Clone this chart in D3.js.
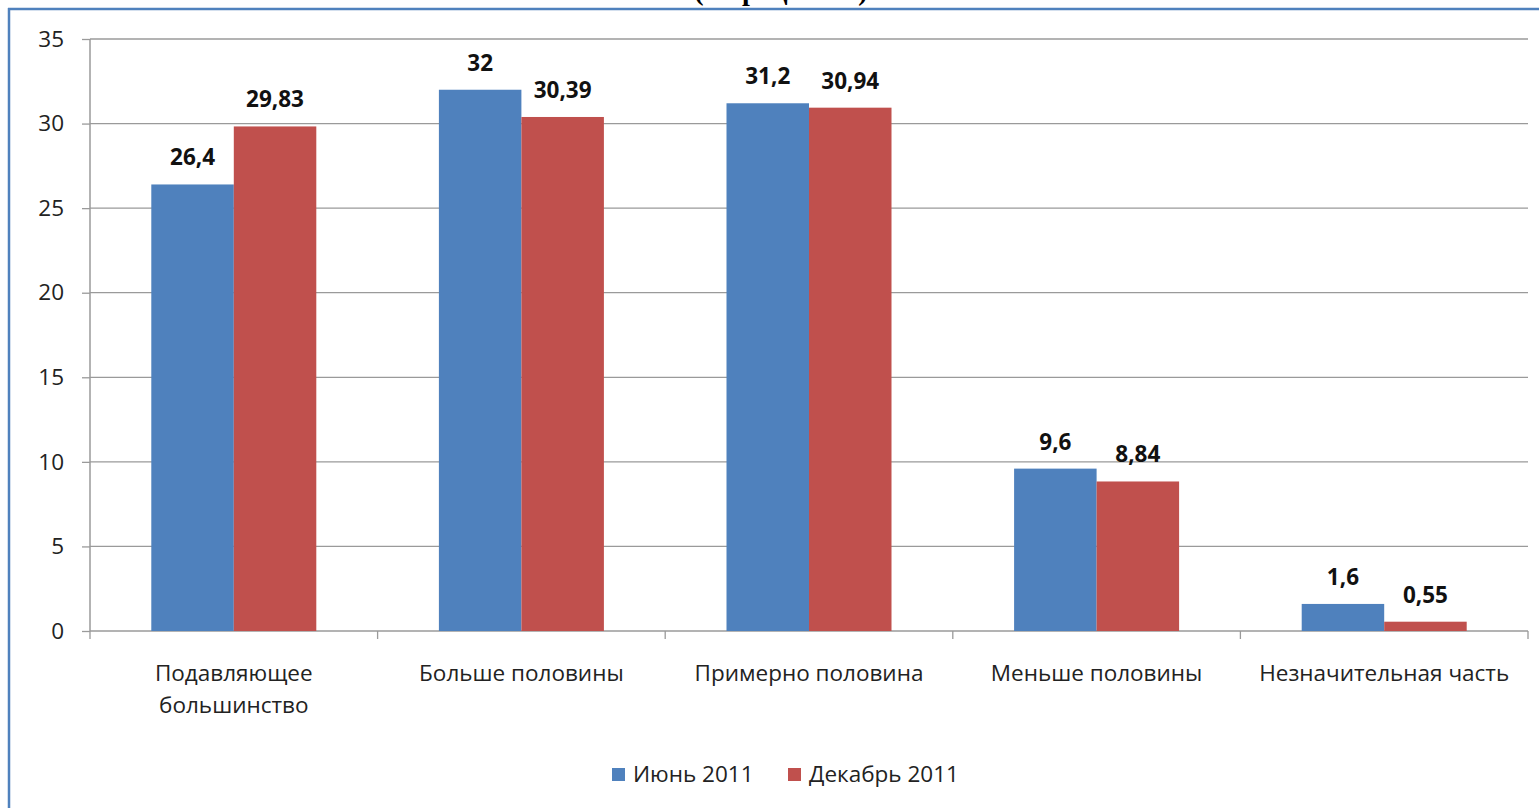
<!DOCTYPE html>
<html><head><meta charset="utf-8">
<script src="https://cdn.jsdelivr.net/npm/d3@7"></script>
<style>body{margin:0;background:#fff;overflow:hidden}svg{display:block}</style>
</head><body>
<script>
const categories = [["Подавляющее","большинство"],["Больше половины"],["Примерно половина"],["Меньше половины"],["Незначительная часть"]];
const seriesNames = ["Июнь 2011","Декабрь 2011"];
const june = [26.4, 32, 31.2, 9.6, 1.6];
const december = [29.83, 30.39, 30.94, 8.84, 0.55];
const juneLabels = ["26,4","32","31,2","9,6","1,6"];
const decLabels = ["29,83","30,39","30,94","8,84","0,55"];
const yTicks = [0,5,10,15,20,25,30,35];
const colors = ["#4F81BD","#C0504D"];

const W=1539,H=808;
const svg=d3.select("body").append("svg").attr("width",W).attr("height",H);
const font="'Open Sans', 'Noto Sans', sans-serif";
const fs="22.5px";

// partially hidden title (cut off by the top edge as in the reference)
svg.append("text").attr("x",781).attr("y",0).attr("text-anchor","middle")
  .style("font-family","'Liberation Serif', serif").style("font-weight","bold").style("font-size","28px")
  .text("(в процентах)");
svg.append("rect").attr("x",0).attr("y",8).attr("width",W).attr("height",H).attr("fill","#fff");
// frame
svg.append("line").attr("x1",8).attr("x2",W).attr("y1",9).attr("y2",9).attr("stroke","#4F81BD").attr("stroke-width",2.5);
svg.append("line").attr("x1",9).attr("x2",9).attr("y1",8).attr("y2",H).attr("stroke","#4F81BD").attr("stroke-width",2.5);

const x0=90,x1=1528,yB=631,yT=39;
const y=d3.scaleLinear().domain([0,35]).range([yB,yT]);
const xc=d3.scaleBand().domain(d3.range(5)).range([x0,x1]).paddingInner(0).paddingOuter(0);
const xs=d3.scaleBand().domain([0,1]).range([0,xc.bandwidth()]).paddingOuter(0.743).paddingInner(0);

const yAxis=d3.axisLeft(y).tickValues(yTicks).tickSize(8).tickFormat(d3.format("d"));
const gy=svg.append("g").attr("transform",`translate(${x0},0)`).call(yAxis);
gy.select(".domain").attr("stroke","#9a9a9a").attr("stroke-width",1.5).attr("d",`M0,${yT}V${yB}`);
gy.selectAll(".tick line").attr("stroke","#9a9a9a").attr("stroke-width",1.3);
gy.selectAll(".tick text").attr("x",-26).style("font-family",font).style("font-size",fs).attr("fill","#222");
svg.append("g").selectAll("line").data(yTicks).join("line")
  .attr("x1",x0).attr("x2",x1).attr("y1",d=>y(d)).attr("y2",d=>y(d))
  .attr("stroke","#9a9a9a").attr("stroke-width",1.3);

svg.append("g").selectAll("line").data(d3.range(6)).join("line")
  .attr("x1",d=>x0+d*xc.bandwidth()).attr("x2",d=>x0+d*xc.bandwidth())
  .attr("y1",yB).attr("y2",yB+8).attr("stroke","#9a9a9a").attr("stroke-width",1.3);

const data=[june,december], labels=[juneLabels,decLabels];
data.forEach((vals,s)=>{
  svg.append("g").selectAll("rect").data(vals).join("rect")
    .attr("x",(d,i)=>xc(i)+xs(s)).attr("width",xs.bandwidth())
    .attr("y",d=>y(d)).attr("height",d=>yB-y(d)).attr("fill",colors[s]);
  svg.append("g").selectAll("text").data(vals).join("text")
    .attr("x",(d,i)=>xc(i)+xs(s)+xs.bandwidth()/2).attr("y",d=>y(d)-19)
    .attr("text-anchor","middle").style("font-family",font).style("font-weight","bold")
    .style("font-size",fs).attr("fill","#111")
    .text((d,i)=>labels[s][i]);
});

categories.forEach((lines,i)=>{
  const cx=xc(i)+xc.bandwidth()/2;
  const t=svg.append("text").attr("x",cx).attr("y",681)
    .attr("text-anchor","middle").style("font-family",font).style("font-size",fs).attr("fill","#222");
  lines.forEach((l,j)=>t.append("tspan").attr("x",cx).attr("dy",j?32:0).text(l));
});

const lg=svg.append("g");
const legX=[612,788];
seriesNames.forEach((n,i)=>{
  lg.append("rect").attr("x",legX[i]).attr("y",768).attr("width",13).attr("height",13).attr("fill",colors[i]);
  lg.append("text").attr("x",legX[i]+21).attr("y",782).style("font-family",font).style("font-size",fs).attr("fill","#222").text(n);
});
</script>
</body></html>
